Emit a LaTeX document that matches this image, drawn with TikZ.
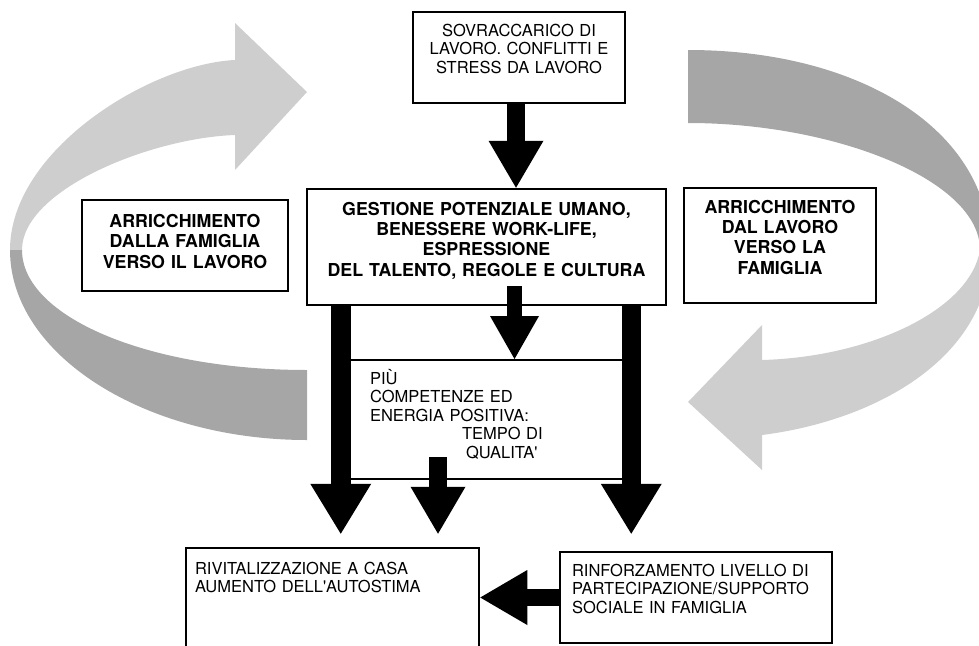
\documentclass[tikz,border=0pt]{standalone}
\usepackage{fontspec}
\setmainfont{TeX Gyre Heros}
\usepackage{tikz}
\usetikzlibrary{arrows.meta}
\definecolor{ribbonlight}{RGB}{206,206,206}
\definecolor{ribbondark}{RGB}{166,166,166}
\tikzset{
  box/.style={draw=black,line width=2.5pt,fill=white,inner xsep=0pt,inner ysep=0pt},
  plaintxt/.style={font=\fontsize{16.5}{18.5}\selectfont,align=left},
  boldtxt/.style={font=\fontsize{17.8}{20.4}\selectfont\bfseries,align=center},
  bigflow/.style={line width=19.5pt,-{Triangle[length=50pt,width=61pt,line width=0pt]}},
  flow/.style={line width=17.5pt,-{Triangle[length=47pt,width=55pt,line width=0pt]}},
  thinflow/.style={line width=15pt,-{Triangle[length=43pt,width=49pt,line width=0pt]}},
}

\begin{document}
\begin{tikzpicture}[x=1pt,y=-1pt]
  \useasboundingbox (0,0) rectangle (979,645);
  \clip (0,0) rectangle (979,645);
  % left ribbon: family -> work
  \fill[ribbonlight] (235,60) .. controls (150,64) and (10,150) .. (10,250)
    -- (22,250) .. controls (22,190) and (150,138) .. (235,135) -- cycle;
  \fill[ribbonlight] (235,23) -- (307,92) -- (235,170) -- cycle;
  \fill[ribbondark] (10,250) .. controls (10,355) and (145,440) .. (307,440)
    -- (307,370) .. controls (146,370) and (22,316) .. (22,250) -- cycle;
  % right ribbon: work -> family
  \fill[ribbondark] (688,50) .. controls (860,50) and (990,130) .. (990,250)
    -- (980,250) .. controls (980,180) and (835,123) .. (688,123) -- cycle;
  \fill[ribbonlight] (990,250) .. controls (990,355) and (880,420) .. (762,435)
    -- (762,360) .. controls (870,357) and (970,310) .. (980,250) -- cycle;
  \fill[ribbonlight] (762,325) -- (688,402) -- (762,470) -- cycle;
  % boxes
  \node[box,plaintxt,align=center,text width=212pt,text height=24pt,text depth=67pt] (sovr) at (519,57.5)
    {SOVRACCARICO DI\\LAVORO. CONFLITTI E\\STRESS DA LAVORO};
  \node[box,boldtxt,text width=359pt,text height=26pt,text depth=90pt] (gest) at (486.5,247)
    {GESTIONE POTENZIALE UMANO,\\BENESSERE WORK-LIFE,\\ESPRESSIONE\\DEL TALENTO, REGOLE E CULTURA};
  \node[box,boldtxt,text width=206pt,text height=27.5pt,text depth=63.5pt] (famlav) at (185,245.5)
    {ARRICCHIMENTO\\DALLA FAMIGLIA\\VERSO IL LAVORO};
  \node[box,boldtxt,text width=192pt,text height=25pt,text depth=90pt] (lavfam) at (780,245.5)
    {ARRICCHIMENTO\\DAL LAVORO\\VERSO LA\\FAMIGLIA};
  \node[box,plaintxt,line width=2pt,inner xsep=25pt,text width=230pt,text height=24pt,text depth=95pt] (piu) at (485,419.5)
    {PIÙ\\COMPETENZE ED\\ENERGIA POSITIVA:\\\hspace*{92pt}TEMPO DI\\\hspace*{96pt}QUALITA\textquotesingle};
  \node[box,plaintxt,inner xsep=9pt,text width=275pt,text height=26pt,text depth=86pt] (riv) at (332.5,604)
    {RIVITALIZZAZIONE A CASA\\AUMENTO DELL\textquotesingle AUTOSTIMA};
  \node[box,plaintxt,inner xsep=12pt,text width=248pt,text height=24pt,text depth=67pt] (rinf) at (696,597.5)
    {RINFORZAMENTO LIVELLO DI\\PARTECIPAZIONE/SUPPORTO\\SOCIALE IN FAMIGLIA};
  % arrows
  \draw[flow] ([xshift=-3pt]sovr.south) -- ([xshift=-3pt]sovr.south |- gest.north);
  \draw[thinflow,shorten <=-20pt] ([xshift=28pt]gest.south) -- ([xshift=28pt]gest.south |- piu.north);
  \draw[bigflow,shorten >=13pt] ([xshift=35pt]gest.south west) -- ([xshift=35pt]gest.south west |- riv.north);
  \draw[bigflow,shorten >=17pt] ([xshift=-36pt]gest.south east) -- ([xshift=-36pt]gest.south east |- rinf.north);
  \draw[flow,shorten <=-23pt,shorten >=13pt] ([xshift=-47pt]piu.south) -- ([xshift=-47pt]piu.south |- riv.north);
  \draw[flow] (rinf.west) -- (rinf.west -| riv.east);
\end{tikzpicture}
\end{document}
